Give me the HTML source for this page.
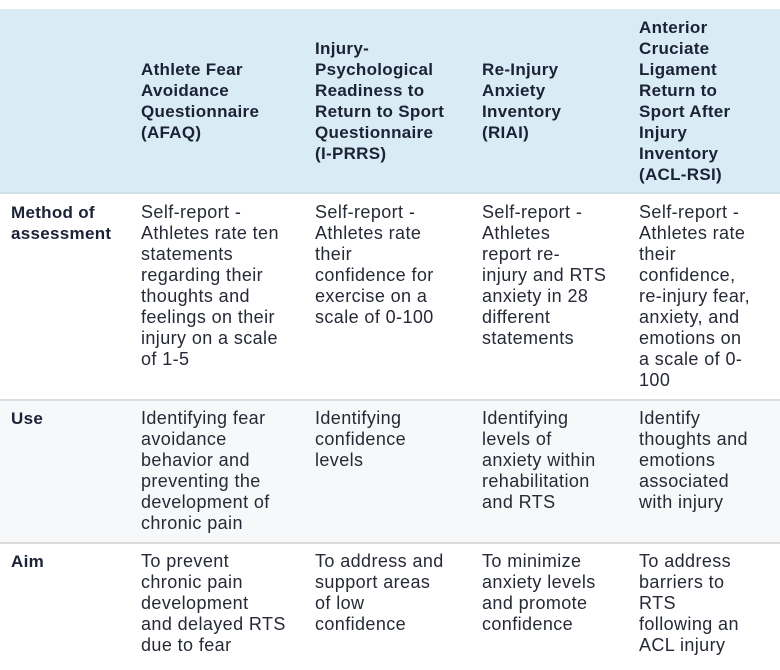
<!DOCTYPE html>
<html><head><meta charset="utf-8"><style>
body{margin:0;width:780px;height:670px;background:#fff;position:relative;overflow:hidden;font-family:"Liberation Sans",sans-serif;color:#262a36}
.bg{position:absolute;left:0;width:780px}
.c{position:absolute;white-space:nowrap;font-size:18px;line-height:21px;letter-spacing:0.4px}
.h{font-weight:bold;font-size:17px;color:#1b2236;letter-spacing:0.3px}
.rl{font-weight:bold;font-size:17px;color:#1b2236;letter-spacing:0.3px}
.ln{position:absolute;left:0;width:780px;height:2px;background:#dcdcdc}
</style></head><body>
<div class="bg" style="top:9px;height:184px;background:#d9ebf5"></div>
<div class="ln" style="top:192px;background:#cfdfe8"></div>
<div class="bg" style="top:400px;height:143px;background:#f7f8f9"></div>
<div class="ln" style="top:399px"></div>
<div class="ln" style="top:542px"></div>

<div class="c h" style="left:141px;top:59px">Athlete Fear<br>Avoidance<br>Questionnaire<br>(AFAQ)</div>
<div class="c h" style="left:315px;top:38px">Injury-<br>Psychological<br>Readiness to<br>Return to Sport<br>Questionnaire<br>(I-PRRS)</div>
<div class="c h" style="left:482px;top:59px">Re-Injury<br>Anxiety<br>Inventory<br>(RIAI)</div>
<div class="c h" style="left:639px;top:17px">Anterior<br>Cruciate<br>Ligament<br>Return to<br>Sport After<br>Injury<br>Inventory<br>(ACL-RSI)</div>

<div class="c rl" style="left:11px;top:202px">Method of<br>assessment</div>
<div class="c" style="left:141px;top:202px">Self-report -<br>Athletes rate ten<br>statements<br>regarding their<br>thoughts and<br>feelings on their<br>injury on a scale<br>of 1-5</div>
<div class="c" style="left:315px;top:202px">Self-report -<br>Athletes rate<br>their<br>confidence for<br>exercise on a<br>scale of 0-100</div>
<div class="c" style="left:482px;top:202px">Self-report -<br>Athletes<br>report re-<br>injury and RTS<br>anxiety in 28<br>different<br>statements</div>
<div class="c" style="left:639px;top:202px">Self-report -<br>Athletes rate<br>their<br>confidence,<br>re-injury fear,<br>anxiety, and<br>emotions on<br>a scale of 0-<br>100</div>

<div class="c rl" style="left:11px;top:408px">Use</div>
<div class="c" style="left:141px;top:408px">Identifying fear<br>avoidance<br>behavior and<br>preventing the<br>development of<br>chronic pain</div>
<div class="c" style="left:315px;top:408px">Identifying<br>confidence<br>levels</div>
<div class="c" style="left:482px;top:408px">Identifying<br>levels of<br>anxiety within<br>rehabilitation<br>and RTS</div>
<div class="c" style="left:639px;top:408px">Identify<br>thoughts and<br>emotions<br>associated<br>with injury</div>

<div class="c rl" style="left:11px;top:551px">Aim</div>
<div class="c" style="left:141px;top:551px">To prevent<br>chronic pain<br>development<br>and delayed RTS<br>due to fear</div>
<div class="c" style="left:315px;top:551px">To address and<br>support areas<br>of low<br>confidence</div>
<div class="c" style="left:482px;top:551px">To minimize<br>anxiety levels<br>and promote<br>confidence</div>
<div class="c" style="left:639px;top:551px">To address<br>barriers to<br>RTS<br>following an<br>ACL injury</div>
</body></html>
